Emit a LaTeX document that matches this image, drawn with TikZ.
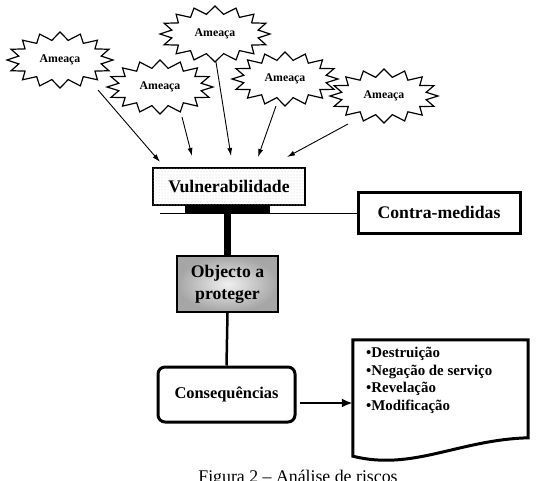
\documentclass[tikz,border=0pt]{standalone}
\usepackage{fontspec}
\setmainfont{Liberation Serif}
\usetikzlibrary{arrows.meta,calc,patterns,shapes.geometric}
\newcommand{\burstshape}[4]{%
  \draw[burstline] ({#1+#3},{#2}) \foreach \k in {0,...,15}{
    -- ({#1+(#3-11)*cos(22.5*\k+11.25)},{#2+(#4-8)*sin(22.5*\k+11.25)})
    -- ({#1+#3*cos(22.5*(\k+1))},{#2+#4*sin(22.5*(\k+1))}) } -- cycle;}
\tikzset{
  burstline/.style={draw=black,fill=white,line width=1.2pt,line join=miter},
  burstnode/.style={ellipse,inner sep=0pt,font=\bfseries\fontsize{11.8}{13}\selectfont},
  bigtxt/.style={font=\bfseries\fontsize{17.7}{22}\selectfont,inner sep=0pt,align=center},
  thin arrow/.style={line width=0.9pt,-{Latex[length=8pt,width=5pt]}},
}
\begin{document}
\begin{tikzpicture}[x=1pt,y=-1pt]
\useasboundingbox (0,0) rectangle (540,481);
% bursts
\burstshape{60}{60}{53}{28}
\node[burstnode,minimum width=106pt,minimum height=56pt] (b1) at (60,60) {Ameaça};
\burstshape{160}{87}{53}{27}
\node[burstnode,minimum width=106pt,minimum height=54pt] (b2) at (160,87) {Ameaça};
\burstshape{215}{34}{55}{28}
\node[burstnode,minimum width=110pt,minimum height=56pt] (b3) at (215,34) {Ameaça};
\burstshape{285}{79}{53}{27}
\node[burstnode,minimum width=106pt,minimum height=54pt] (b4) at (285,79) {Ameaça};
\burstshape{384}{96}{54}{27}
\node[burstnode,minimum width=108pt,minimum height=54pt] (b5) at (384,96) {Ameaça};
% vulnerabilidade
\node[bigtxt,draw,line width=2pt,fill=white,postaction={pattern=dots,pattern color=gray!40},
  minimum width=152pt,minimum height=37pt] (v) at (229,186.5) {Vulnerabilidade};
\node[fill=black,inner sep=0pt,minimum width=85pt,minimum height=8pt] (bar) at (227.5,209) {};
% contra-medidas
\node[bigtxt,draw,line width=3pt,minimum width=162pt,minimum height=41pt] (c) at (439,212.5) {Contra-medidas};
\coordinate (hl) at (160,213.5);
\draw[line width=1.5pt] (hl) -- (c.west |- hl);
% objecto
\node[bigtxt,draw,line width=2pt,shading=radial,inner color=gray!12,outer color=gray!70,
  minimum width=101pt,minimum height=56pt] (o) at (227.5,284) {Objecto a\\proteger};
\draw[line width=7.5pt] (bar.south) -- (o.north);
% consequencias
\node[font=\bfseries\fontsize{16.4}{20}\selectfont,inner sep=0pt,draw,line width=3pt,rounded corners=7pt,
  minimum width=137pt,minimum height=55pt] (q) at (226.5,394.5) {Consequências};
\draw[line width=2.5pt] (o.south) -- (q.north);
% document
\node[minimum width=175pt,minimum height=116pt,inner sep=0pt] (d) at (440.5,398) {};
\draw[line width=3pt,line join=miter] (d.south west) -- (d.north west) -- (d.north east) -- ($(d.north east)+(0,98)$)
  .. controls ($(d.north east)+(-70,100)$) and ($(d.south west)+(60,15)$) .. (d.south west) -- cycle;
\node[anchor=north west,inner sep=0pt,align=left,font=\bfseries\fontsize{14.9}{17.6}\selectfont]
  (list) at (366,347) {•Destruição\\•Negação de serviço\\•Revelação\\•Modificação};
\draw[line width=2.5pt,-{Latex[length=11pt,width=9pt]}] ($(q.east)+(3,8.5)$) -- (d.west |- {$(q.east)+(3,8.5)$});
% arrows from bursts
\draw[thin arrow] ($(b1)+(38,30)$) -- ($(v.north)+(-69,-5)$);
\draw[thin arrow] ($(b2)+(22,30)$) -- ($(v.north)+(-37,-11)$);
\draw[thin arrow] ($(b3)+(1,28)$) -- ($(v.north)+(2,-11)$);
\draw[thin arrow] ($(b4)+(-9,27)$) -- ($(v.north)+(29,-10)$);
\draw[thin arrow] ($(b5)+(-36,28)$) -- ($(v.north)+(58,-10)$);
% caption
\node[anchor=base,inner sep=0pt,font=\fontsize{17.8}{20}\selectfont] (cap) at (298,482) {Figura 2 – Análise de riscos};
\end{tikzpicture}
\end{document}
